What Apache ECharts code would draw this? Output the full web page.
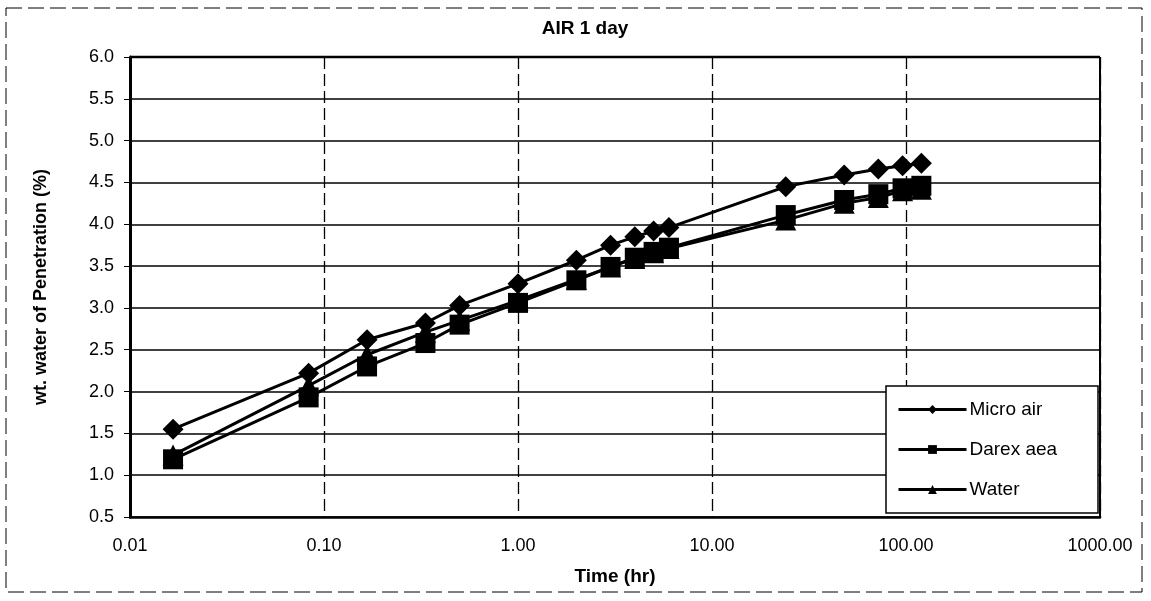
<!DOCTYPE html>
<html>
<head>
<meta charset="utf-8">
<script src="https://cdn.jsdelivr.net/npm/echarts@6/dist/echarts.min.js"></script>
<style>
  html, body { margin: 0; padding: 0; background: #fff; }
  #grafico { width: 1151px; height: 601px; }
</style>
</head>
<body>
<div id="grafico"></div>
<script>
// dados (tempo em horas)
const tempos = [1/60, 5/60, 10/60, 20/60, 30/60, 1, 2, 3, 4, 5, 6, 24, 48, 72, 96, 120];
const microAir = [1.55, 2.22, 2.62, 2.82, 3.03, 3.29, 3.57, 3.75, 3.85, 3.92, 3.96, 4.45, 4.59, 4.66, 4.70, 4.73];
const darexAea = [1.19, 1.93, 2.30, 2.58, 2.80, 3.06, 3.33, 3.49, 3.60, 3.67, 3.72, 4.11, 4.29, 4.36, 4.43, 4.46];
const water = [1.24, 2.07, 2.44, 2.71, 2.85, 3.09, 3.34, 3.49, 3.59, 3.66, 3.71, 4.05, 4.25, 4.32, 4.40, 4.42];
const nomes = ["Micro air", "Darex aea", "Water"];
const simbolos = ["diamond", "rect", "triangle"];
const tamanhos = [21, 20, 21];

const fonte = "'Liberation Sans', Arial, sans-serif";

function pares(valores) {
    return tempos.map((t, i) => [t, valores[i]]);
}

let grafico = document.getElementById("grafico");
let myChart = echarts.init(grafico);

let series = [microAir, darexAea, water].map((valores, i) => ({
    name: nomes[i],
    type: "line",
    data: pares(valores),
    symbol: simbolos[i],
    symbolSize: tamanhos[i],
    showAllSymbol: true,
    lineStyle: { color: "#000", width: 3 },
    itemStyle: { color: "#000", borderColor: "#000", borderWidth: 0 },
    z: 3 - i
}));

let option = {
    animation: false,
    backgroundColor: "#fff",
    title: {
        text: "AIR 1 day",
        left: 580,
        textAlign: "center",
        top: 14,
        textStyle: { fontFamily: fonte, fontSize: 19, fontWeight: "bold", color: "#000" }
    },
    grid: { left: 130, right: 51, top: 57, bottom: 84, show: false },
    legend: {
        orient: "vertical",
        left: 893,
        top: 396,
        z: 20,
        itemWidth: 68,
        itemHeight: 11,
        itemGap: 21,
        padding: [4, 4, 4, 4],
        data: nomes,
        textStyle: { fontFamily: fonte, fontSize: 19, color: "#000", padding: [0, 0, 0, -2] },
        itemStyle: { color: "#000" },
        lineStyle: { color: "#000", width: 3 }
    },
    xAxis: {
        type: "log",
        logBase: 10,
        min: 0.01,
        max: 1000,
        name: "Time (hr)",
        nameLocation: "middle",
        nameGap: 50,
        nameTextStyle: { fontFamily: fonte, fontSize: 19, fontWeight: "bold", color: "#000" },
        axisLine: { show: true, lineStyle: { color: "#000", width: 2.5 } },
        axisTick: { show: false },
        minorTick: { show: false },
        axisLabel: {
            fontFamily: fonte, fontSize: 18, color: "#000", margin: 20,
            formatter: v => Number(v).toFixed(2)
        },
        splitLine: { show: true, lineStyle: { color: "#000", width: 1.3, type: [12, 5] } }
    },
    yAxis: {
        type: "value",
        min: 0.5,
        max: 6.0,
        interval: 0.5,
        name: "wt. water of Penetration (%)",
        nameLocation: "middle",
        nameGap: 80,
        nameRotate: 90,
        nameTextStyle: { fontFamily: "'Liberation Sans Narrow', " + fonte, fontSize: 18, fontWeight: "bold", color: "#000" },
        axisLine: { show: true, lineStyle: { color: "#000", width: 3 } },
        axisTick: { show: true, length: 6, lineStyle: { color: "#000" } },
        axisLabel: {
            fontFamily: fonte, fontSize: 18, color: "#000", margin: 16,
            formatter: v => v.toFixed(1)
        },
        splitLine: { show: true, lineStyle: { color: "#000", width: 1.5 } }
    },
    graphic: [
        {
            type: "rect",
            shape: { x: 6, y: 8, width: 1136, height: 584 },
            style: { fill: null, stroke: "#000", lineWidth: 1, lineDash: [16, 6] },
            silent: true
        },
        {
            type: "line",
            shape: { x1: 130, y1: 57, x2: 1100, y2: 57 },
            style: { stroke: "#000", lineWidth: 2.5 },
            silent: true
        },
        {
            type: "line",
            shape: { x1: 1100, y1: 57, x2: 1100, y2: 517 },
            style: { stroke: "#000", lineWidth: 2 },
            silent: true
        },
        {
            type: "rect",
            shape: { x: 886, y: 386, width: 212, height: 127 },
            style: { fill: "#fff", stroke: "#000", lineWidth: 1.5 },
            z: 10,
            silent: true
        }
    ],
    series: series
};

myChart.setOption(option);
</script>
</body>
</html>
